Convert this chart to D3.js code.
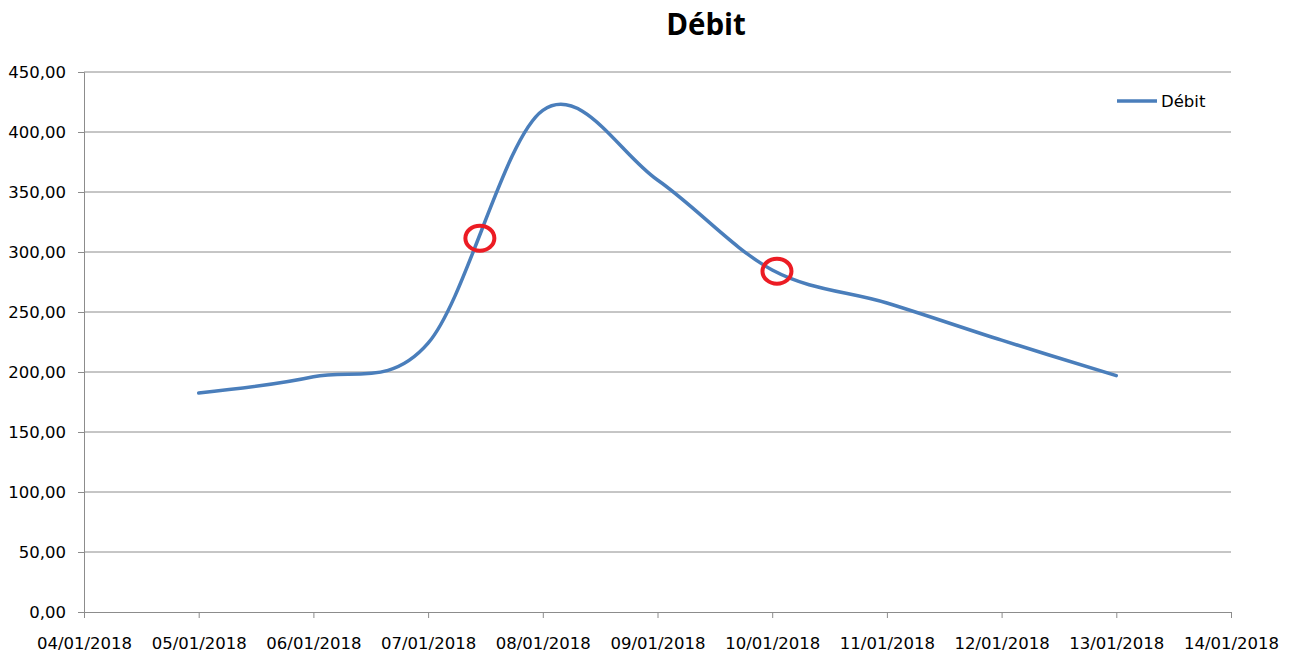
<!DOCTYPE html>
<html lang="fr">
<head>
  <meta charset="UTF-8">
  <title>Débit</title>
  <script src="https://d3js.org/d3.v7.min.js"></script>
  <style>
    body { margin: 0; background: #fff; }
    svg text { font-family: "DejaVu Sans", sans-serif; fill: #000; }
  </style>
</head>
<body>
<svg width="1295" height="655"></svg>
<script>
// data
const dates = ["05/01/2018", "06/01/2018", "07/01/2018", "08/01/2018", "09/01/2018",
               "10/01/2018", "11/01/2018", "12/01/2018", "13/01/2018"];
const debit = [182.5, 196, 224, 418, 360, 285, 257.5, 226.5, 197];
const yTicks = [0, 50, 100, 150, 200, 250, 300, 350, 400, 450];
// red circles drawn on top of the chart (date, value)
const marks = [["07/01/2018 10:50", 311.5], ["10/01/2018 01:00", 284]];

const parse = d3.timeParse("%d/%m/%Y");
const parseT = d3.timeParse("%d/%m/%Y %H:%M");
const fmt = d3.timeFormat("%d/%m/%Y");
const num = v => d3.format(".2f")(v).replace(".", ",");

const svg = d3.select("svg");
const margin = {top: 72, right: 64, bottom: 43, left: 84};
const width = 1295 - margin.left - margin.right,
      height = 655 - margin.top - margin.bottom;
const g = svg.append("g").attr("transform", `translate(${margin.left},${margin.top})`);

const x = d3.scaleTime().domain([parse("04/01/2018"), parse("14/01/2018")]).range([0, width]);
const y = d3.scaleLinear().domain([0, 450]).range([height, 0]);

// gridlines
g.append("g")
  .selectAll("line")
  .data(yTicks.slice(1))
  .join("line")
  .attr("x1", 0).attr("x2", width)
  .attr("y1", d => y(d)).attr("y2", d => y(d))
  .attr("stroke", "#8c8c8c").attr("stroke-width", 1);

// axes
const yAxis = g.append("g")
  .call(d3.axisLeft(y).tickValues(yTicks).tickFormat(num).tickSize(6).tickPadding(12));
const xAxis = g.append("g").attr("transform", `translate(0,${height})`)
  .call(d3.axisBottom(x).ticks(d3.timeDay.every(1)).tickFormat(fmt).tickSize(6).tickPadding(19));
[xAxis, yAxis].forEach(a => {
  a.selectAll("path, line").attr("stroke", "#8c8c8c");
  a.selectAll("text").style("font-size", "16.5px").attr("fill", "#000");
});

// series
const data = dates.map((d, i) => ({date: parse(d), value: debit[i]}));
g.append("path")
  .datum(data)
  .attr("fill", "none")
  .attr("stroke", "#4a7ebb")
  .attr("stroke-width", 3.5)
  .attr("stroke-linecap", "round")
  .attr("d", d3.line().x(d => x(d.date)).y(d => y(d.value)).curve(d3.curveCardinal.tension(0)));

// red circles
g.selectAll(".mark")
  .data(marks)
  .join("ellipse")
  .attr("class", "mark")
  .attr("cx", d => x(parseT(d[0])))
  .attr("cy", d => y(d[1]))
  .attr("rx", 14.5).attr("ry", 12.5)
  .attr("fill", "none")
  .attr("stroke", "#ec1c24")
  .attr("stroke-width", 4);

// title
svg.append("text")
  .attr("x", 706).attr("y", 35)
  .attr("text-anchor", "middle")
  .style("font-family", "'Open Sans', sans-serif")
  .style("font-size", "29.5px").style("font-weight", "bold")
  .text("Débit");

// legend
const lg = svg.append("g").attr("transform", "translate(1117,101)");
lg.append("line").attr("x1", 0).attr("x2", 40).attr("y1", 0).attr("y2", 0)
  .attr("stroke", "#4a7ebb").attr("stroke-width", 3.5);
lg.append("text").attr("x", 44).attr("y", 6).style("font-size", "16.5px").text("Débit");
</script>
</body>
</html>
